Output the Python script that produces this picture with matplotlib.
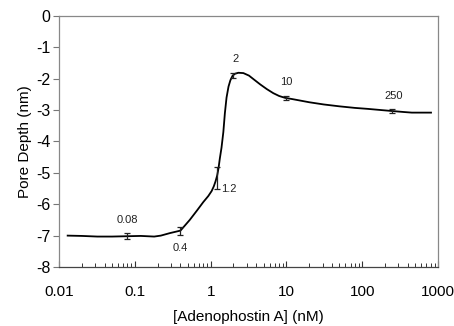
import matplotlib
matplotlib.use("Agg")
import matplotlib.pyplot as plt
from matplotlib.ticker import LogLocator, NullFormatter

plt.rcParams['font.family'] = ['Liberation Sans', 'DejaVu Sans']
plt.rcParams['axes.unicode_minus'] = False

# measured points
conc = [0.08, 0.4, 1.2, 2, 10, 250]
depth = [-7.02, -6.86, -5.15, -1.9, -2.62, -3.03]
err = [0.1, 0.12, 0.35, 0.07, 0.07, 0.06]
labels = ["0.08", "0.4", "1.2", "2", "10", "250"]
label_x = [0.08, 0.4, 1.75, 2.1, 10, 262]
label_y = [-6.5, -7.4, -5.5, -1.37, -2.1, -2.55]

# fitted curve
curve_x = [0.013, 0.02, 0.032, 0.05, 0.077, 0.12, 0.18, 0.22, 0.29, 0.4, 0.53, 0.66,
           0.8, 0.93, 1.03, 1.1, 1.16, 1.22, 1.27, 1.32, 1.39, 1.47, 1.54, 1.62, 1.72, 1.82,
           1.95, 2.1, 2.32, 2.7, 3.2, 3.7, 4.5, 5.5, 6.7, 8.0, 9.6, 12, 20, 31, 50, 80,
           117, 180, 250, 350, 450, 806]
curve_y = [-7.0, -7.01, -7.03, -7.03, -7.02, -7.01, -7.03, -7.0, -6.92, -6.84, -6.5, -6.2,
           -5.93, -5.74, -5.58, -5.43, -5.27, -5.08, -4.85, -4.55, -4.2, -3.7, -3.1, -2.6,
           -2.25, -2.05, -1.9, -1.84, -1.81, -1.82, -1.9, -2.02, -2.18, -2.33, -2.46, -2.55,
           -2.61, -2.65, -2.75, -2.82, -2.88, -2.93, -2.96, -3.0, -3.03, -3.06, -3.08, -3.08]

fig = plt.figure(figsize=(4.54, 3.26), dpi=100)
ax = fig.add_axes([0.130, 0.181, 0.835, 0.770])

ax.plot(curve_x, curve_y, color='black', lw=1.3, zorder=3, solid_joinstyle='round')
ax.errorbar(conc, depth, yerr=err, fmt='none', ecolor='#222222', elinewidth=0.9,
            capsize=2, capthick=0.9, zorder=4)

for lx, ly, t in zip(label_x, label_y, labels):
    ax.text(lx, ly, t, ha='center', va='center', fontsize=8, color='#222222')

ax.set_xscale('log')
ax.set_xlim(0.01, 1000)
ax.set_ylim(-8, 0)
ax.set_yticks(range(-8, 1))

ax.xaxis.set_minor_locator(LogLocator(base=10, subs=range(2, 10), numticks=10))
ax.xaxis.set_minor_formatter(NullFormatter())
ax.set_xticks([0.01, 0.1, 1, 10, 100, 1000])
ax.set_xticklabels(["0.01", "0.1", "1", "10", "100", "1000"])

ax.tick_params(axis='x', which='major', direction='in', length=4.5, width=0.8,
               labelsize=11, pad=13, color='#333333')
ax.tick_params(axis='x', which='minor', direction='in', length=3, width=0.7, color='#333333')
ax.tick_params(axis='y', which='major', direction='out', length=4, width=0.8,
               labelsize=11.5, pad=2, color='#777777')

for s in ['top', 'right', 'left']:
    ax.spines[s].set_color('#888888')
    ax.spines[s].set_linewidth(0.9)
ax.spines['bottom'].set_color('#444444')
ax.spines['bottom'].set_linewidth(0.9)

ax.set_xlabel('[Adenophostin A] (nM)', fontsize=11, labelpad=8)
ax.set_ylabel('Pore Depth (nm)', fontsize=11, labelpad=3)

fig.savefig('out.png', dpi=100)
